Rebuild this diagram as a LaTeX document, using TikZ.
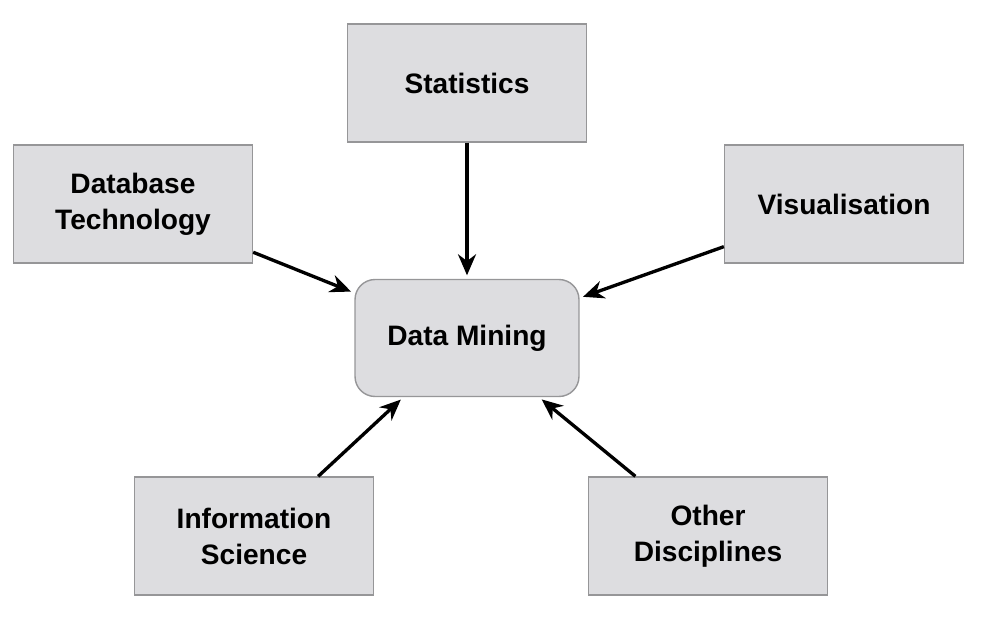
\documentclass[tikz,border=0pt]{standalone}
\usepackage{fontspec}
\setmainfont{Liberation Sans}
\usetikzlibrary{arrows.meta}
\definecolor{boxfill}{RGB}{221,221,224}
\definecolor{boxline}{RGB}{150,150,152}
\begin{document}
\begin{tikzpicture}[x=0.02cm, y=-0.02cm,
    field/.style={shape=rectangle, draw=boxline, fill=boxfill, line width=0.8pt,
        minimum width=4.78cm, minimum height=2.36cm, align=center,
        font=\fontsize{16}{20.5}\selectfont\bfseries},
    core/.style={field, rounded corners=0.4cm, minimum width=4.48cm, minimum height=2.34cm},
    link/.style={-{Stealth[length=0.42cm, width=0.36cm]}, line width=1.9pt, shorten >=2pt}]
    \useasboundingbox (0,0) rectangle (986,618);
        \node[field] (S) at (467,83) {Statistics};
        \node[field] (D) at (133,204) {Database\\Technology};
        \node[field] (V) at (844,204) {Visualisation};
        \node[core] (M) at (467,338) {Data Mining};
        \node[field] (I) at (254,536) {Information\\Science};
        \node[field] (O) at (708,536) {Other\\Disciplines};


        \path [link] (S) edge (M);
        \path [link] (D) edge (M);
        \path [link] (V) edge (M);
        \path [link] (I) edge (M);
        \path [link] (O) edge (M);
    \end{tikzpicture}
\end{document}
